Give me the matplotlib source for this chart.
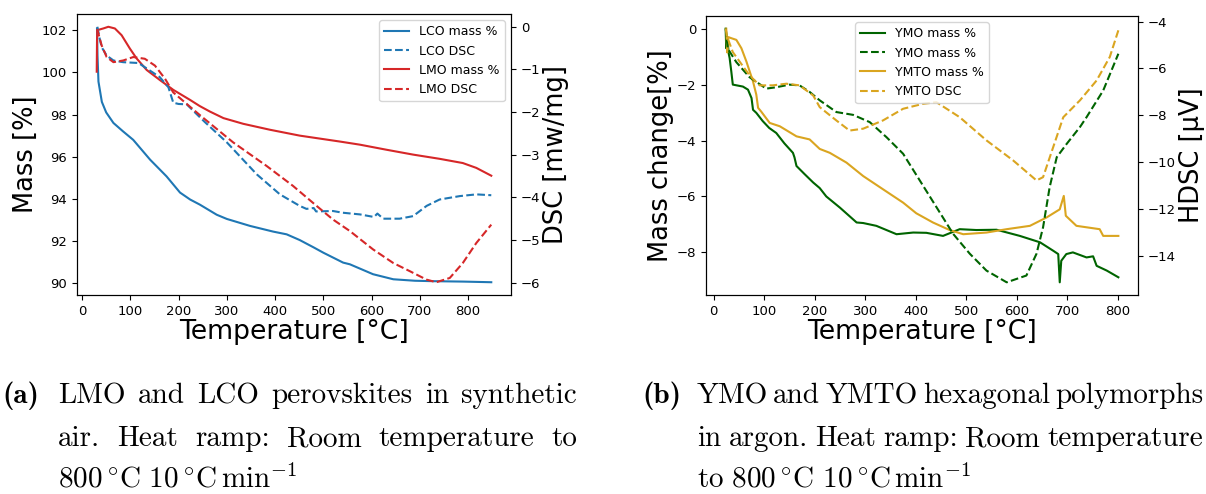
import numpy as np
import matplotlib
matplotlib.use("Agg")
import matplotlib.pyplot as plt

plt.rcParams['mathtext.fontset'] = 'cm'

# ---- (a) LMO / LCO in synthetic air ----
lco_mass_t = [31, 32, 34, 41, 50, 65, 85, 106, 141, 175, 203, 224, 244, 279, 300, 348, 396, 424, 451, 480, 500, 541, 555, 603, 645, 690, 727, 790, 848]
lco_mass = [102.08, 100.8, 99.56, 98.6, 98.1, 97.6, 97.2, 96.8, 95.86, 95.07, 94.3, 93.97, 93.73, 93.25, 93.05, 92.72, 92.45, 92.32, 92.05, 91.7, 91.45, 90.98, 90.9, 90.43, 90.19, 90.12, 90.1, 90.08, 90.05]

lco_dsc_t = [31.7, 36, 40.7, 51, 65, 85, 117, 141, 161, 179, 189, 200, 217, 244, 255, 300, 362, 410, 451, 465, 480, 485, 520, 540, 576, 605, 612, 624, 658, 686, 714, 741, 783, 817, 848]
lco_dsc = [0.0, -0.25, -0.48, -0.675, -0.79, -0.83, -0.85, -1.03, -1.18, -1.42, -1.78, -1.81, -1.82, -2.12, -2.24, -2.71, -3.46, -3.93, -4.2, -4.27, -4.25, -4.33, -4.32, -4.36, -4.4, -4.46, -4.38, -4.5, -4.5, -4.44, -4.2, -4.05, -3.97, -3.93, -3.95]

lmo_mass_t = [30.4, 31, 31.5, 44, 54.5, 68, 82, 99, 113, 134, 161, 189, 224, 244, 265, 293, 334, 389, 451, 534, 576, 631, 686, 741, 789, 817, 848]
lmo_mass = [100.03, 101.5, 102.0, 102.08, 102.16, 102.08, 101.76, 101.13, 100.66, 100.11, 99.64, 99.17, 98.69, 98.4, 98.14, 97.83, 97.56, 97.28, 97.0, 96.72, 96.57, 96.33, 96.1, 95.9, 95.7, 95.47, 95.1]

lmo_dsc_t = [31.5, 36, 40.7, 51, 65, 85.5, 106, 130, 151, 172, 189, 217, 244, 313, 382, 437, 486, 520, 555, 603, 645, 679, 714, 734, 762, 789, 817, 848]
lmo_dsc = [-0.05, -0.25, -0.44, -0.71, -0.83, -0.79, -0.71, -0.75, -0.91, -1.22, -1.54, -1.81, -2.07, -2.71, -3.26, -3.73, -4.2, -4.52, -4.79, -5.22, -5.54, -5.73, -5.93, -5.99, -5.89, -5.54, -5.07, -4.64]

# ---- (b) YMO / YMTO in argon ----
ymo_mass_t = [23.8, 25, 26, 27, 28, 30, 31.7, 35, 38, 58, 68, 75, 78, 84.5, 97, 110, 124, 140, 157, 160, 164, 180, 197, 210, 223, 250, 283, 296, 322, 362, 395, 421, 454, 487, 520, 560, 606, 646, 672, 682, 685, 688, 698, 711, 738, 751, 758, 778, 801]
ymo_mass = [0.0, -0.7, -0.3, -0.76, -0.5, -0.9, -1.05, -1.53, -2.0, -2.07, -2.18, -2.48, -2.9, -3.01, -3.3, -3.55, -3.73, -4.1, -4.44, -4.6, -4.91, -5.2, -5.5, -5.7, -6.0, -6.4, -6.93, -6.95, -7.05, -7.35, -7.29, -7.3, -7.41, -7.17, -7.2, -7.19, -7.41, -7.64, -7.94, -8.06, -9.07, -8.3, -8.06, -8.0, -8.18, -8.14, -8.48, -8.65, -8.89]

ymo_dsc_t = [24, 28, 45, 71, 104, 124, 150, 170, 190, 210, 243, 276, 309, 342, 375, 408, 441, 474, 507, 540, 580, 619, 639, 652, 665, 679, 699, 725, 738, 771, 801]
ymo_dsc = [-4.3, -5.15, -5.73, -6.37, -6.86, -6.8, -6.69, -6.72, -7.0, -7.36, -7.86, -7.98, -8.29, -8.93, -9.64, -10.78, -11.92, -13.06, -13.91, -14.63, -15.13, -14.84, -13.91, -12.78, -11.07, -9.79, -9.21, -8.5, -8.08, -6.94, -5.37]

ymto_mass_t = [25, 27, 29, 35, 45, 55, 65, 78, 84.5, 88, 94, 111, 131, 164, 190, 210, 230, 263, 296, 335, 375, 401, 434, 467, 494, 540, 580, 626, 659, 685, 693, 697, 718, 764, 771, 801]
ymto_mass = [0.0, -0.85, -0.3, -0.34, -0.40, -0.7, -1.18, -1.89, -2.36, -2.83, -2.96, -3.37, -3.49, -3.85, -3.96, -4.3, -4.44, -4.79, -5.27, -5.74, -6.22, -6.6, -6.93, -7.2, -7.35, -7.29, -7.17, -7.05, -6.75, -6.46, -5.98, -6.69, -7.05, -7.17, -7.41, -7.41]

ymto_dsc_t = [24, 26, 38, 71, 91, 117, 144, 170, 197, 210, 243, 269, 296, 335, 375, 414, 441, 487, 540, 593, 639, 652, 672, 692, 725, 758, 784, 801]
ymto_dsc = [-4.3, -4.6, -5.3, -6.29, -6.72, -6.72, -6.65, -6.72, -7.15, -7.65, -8.22, -8.65, -8.57, -8.22, -7.72, -7.51, -7.44, -8.08, -9.07, -9.93, -10.78, -10.64, -9.36, -8.08, -7.36, -6.51, -5.51, -4.37]

W, H = 1206, 494
fig = plt.figure(figsize=(W / 100, H / 100), dpi=100)

tick_fs = 9.5
label_fs = 18.5
xlabel_fs = 19.2
leg_fs = 9

# left panel
ax1 = fig.add_axes([77 / W, 1 - 295 / H, 434 / W, 281 / H])
ax1b = ax1.twinx()
l1, = ax1.plot(lco_mass_t, lco_mass, color='tab:blue', label='LCO mass %')
l2, = ax1b.plot(lco_dsc_t, lco_dsc, color='tab:blue', ls='--', label='LCO DSC')
l3, = ax1.plot(lmo_mass_t, lmo_mass, color='tab:red', label='LMO mass %')
l4, = ax1b.plot(lmo_dsc_t, lmo_dsc, color='tab:red', ls='--', label='LMO DSC')
ax1.set_xlabel('Temperature [°C]', fontsize=xlabel_fs, labelpad=1)
ax1.set_ylabel('Mass [%]', fontsize=label_fs, labelpad=2)
ax1b.set_ylabel('DSC [mw/mg]', fontsize=label_fs, labelpad=2)
ax1.set_yticks([90, 92, 94, 96, 98, 100, 102])
ax1.set_xticks(range(0, 900, 100))
ax1b.set_yticks([0, -1, -2, -3, -4, -5, -6])
for a in (ax1, ax1b):
    a.tick_params(labelsize=tick_fs)
ax1b.legend([l1, l2, l3, l4], [h.get_label() for h in (l1, l2, l3, l4)],
            loc='upper right', fontsize=leg_fs)

# right panel
ax2 = fig.add_axes([706 / W, 1 - 295 / H, 432 / W, 279 / H])
ax2b = ax2.twinx()
g1, = ax2.plot(ymo_mass_t, ymo_mass, color='darkgreen', label='YMO mass %')
g2, = ax2b.plot(ymo_dsc_t, ymo_dsc, color='darkgreen', ls='--', label='YMO mass %')
g3, = ax2.plot(ymto_mass_t, ymto_mass, color='goldenrod', label='YMTO mass %')
g4, = ax2b.plot(ymto_dsc_t, ymto_dsc, color='goldenrod', ls='--', label='YMTO DSC')
ax2.set_xlabel('Temperature [°C]', fontsize=xlabel_fs, labelpad=1)
ax2.set_ylabel('Mass change[%]', fontsize=label_fs, labelpad=2)
ax2b.set_ylabel('HDSC [µV]', fontsize=label_fs, labelpad=2)
ax2.set_yticks([0, -2, -4, -6, -8])
ax2.set_xticks(range(0, 900, 100))
ax2b.set_yticks([-4, -6, -8, -10, -12, -14])
for a in (ax2, ax2b):
    a.tick_params(labelsize=tick_fs)
ax2b.legend([g1, g2, g3, g4], [h.get_label() for h in (g1, g2, g3, g4)],
            loc='upper center', fontsize=leg_fs)

# captions (justified like LaTeX subcaptions)
cap_fs = 21
renderer = fig.canvas.get_renderer()


def put_line(words, x0, x1, y):
    texts = [fig.text(x0 / W, 1 - y / H, w, fontsize=cap_fs, family='cmr10', va='baseline')
             for w in words]
    widths = [t.get_window_extent(renderer).width for t in texts]
    space = (x1 - x0 - sum(widths)) / (len(words) - 1)
    x = x0
    for t, w in zip(texts, widths):
        t.set_x(x / W)
        x += w + space


fig.text(2 / W, 1 - 403 / H, '(a)', fontsize=cap_fs, family='cmb10', va='baseline')
put_line('LMO and LCO perovskites in synthetic'.split(), 58, 577, 403)
put_line('air. Heat ramp: Room temperature to'.split(), 58, 577, 446)
fig.text(58 / W, 1 - 487 / H, r'$800\,^{\circ}\mathrm{C}\ 10\,^{\circ}\mathrm{C}\,\mathrm{min}^{-1}$',
         fontsize=cap_fs, va='baseline')

fig.text(642 / W, 1 - 403 / H, '(b)', fontsize=cap_fs, family='cmb10', va='baseline')
put_line('YMO and YMTO hexagonal polymorphs'.split(), 697, 1203, 403)
put_line('in argon. Heat ramp: Room temperature'.split(), 697, 1203, 446)
fig.text(697 / W, 1 - 487 / H, r'$\mathrm{to}\ 800\,^{\circ}\mathrm{C}\ 10\,^{\circ}\mathrm{C}\,\mathrm{min}^{-1}$',
         fontsize=cap_fs, va='baseline')

fig.savefig('out.png', dpi=100)
